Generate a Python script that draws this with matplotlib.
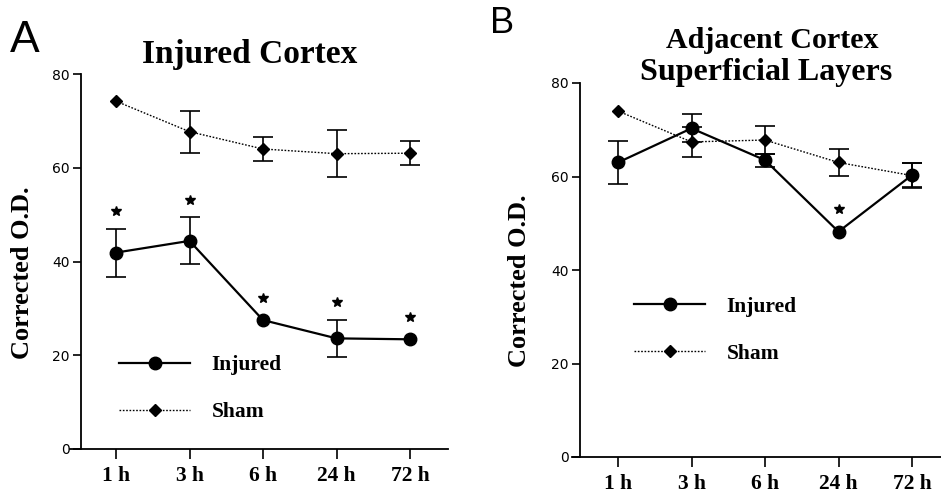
import matplotlib
matplotlib.use("Agg")
import matplotlib.pyplot as plt

# time points (categorical x axis)
times = ["1 h", "3 h", "6 h", "24 h", "72 h"]

# A: injured cortex
inj_a = [41.9, 44.4, 27.5, 23.6, 23.4]
inj_a_err = [5.1, 5.0, 0.0, 3.9, 0.0]
sham_a = [74.2, 67.7, 64.0, 63.0, 63.1]
sham_a_err = [0.0, 4.5, 2.6, 5.0, 2.6]
sig_a = [True, True, True, True, True]

# B: adjacent cortex, superficial layers
inj_b = [63.0, 70.3, 63.5, 48.2, 60.3]
inj_b_err = [4.5, 3.0, 1.4, 0.0, 2.6]
sham_b = [74.0, 67.4, 67.8, 63.0, 60.2]
sham_b_err = [0.0, 3.2, 3.0, 2.8, 2.6]
sig_b = [False, False, False, True, False]

serif = "Liberation Serif"
W, H = 941, 500

fig = plt.figure(figsize=(W / 100, H / 100), dpi=100)


def px_axes(left, right, top, bottom):
    return fig.add_axes([left / W, (H - bottom) / H, (right - left) / W, (bottom - top) / H])


def err_bars(ax, x, y, err, z):
    # error bars too small to see are hidden behind the markers, skip them
    idx = [i for i in x if err[i] > 0]
    ax.errorbar([x[i] for i in idx], [y[i] for i in idx], yerr=[err[i] for i in idx],
                fmt="none", ecolor="black", elinewidth=1.2, capsize=7, capthick=1.2,
                zorder=z)


def draw_panel(ax, inj, inj_err, sham, sham_err, sig, xlim, spine_x, legend_xy, ylabel_x):
    x = list(range(len(times)))
    err_bars(ax, x, sham, sham_err, 2)
    ax.plot(x, sham, color="black", lw=1.0, ls=(0, (1.2, 1.2)), marker="D", ms=6.5,
            label="Sham", zorder=3)
    err_bars(ax, x, inj, inj_err, 4)
    ax.plot(x, inj, color="black", lw=1.6, marker="o", ms=9, label="Injured", zorder=5)

    # significance stars above the injured points
    sx = [i for i in x if sig[i]]
    sy = [inj[i] + max(inj_err[i], 1.0) + 3.8 for i in x if sig[i]]
    ax.plot(sx, sy, ls="none", marker="*", ms=7, color="black")

    ax.set_xlim(*xlim)
    ax.set_ylim(0, 80)
    ax.set_xticks(x)
    ax.set_xticklabels(times, fontfamily=serif, fontweight="bold", fontsize=15.5)
    ax.set_yticks([0, 20, 40, 60, 80])
    ax.set_yticklabels(["0", "20", "40", "60", "80"], fontfamily=serif, fontsize=11)
    ax.tick_params(axis="y", length=6, width=1.2, pad=2)
    ax.tick_params(axis="x", length=7, width=1.2, pad=5)
    for s in ["top", "right"]:
        ax.spines[s].set_visible(False)
    ax.spines["left"].set_position(("data", spine_x))
    ax.spines["left"].set_linewidth(1.3)
    ax.spines["bottom"].set_linewidth(1.3)
    ax.patch.set_alpha(0)

    ax.set_ylabel("Corrected O.D.", fontfamily=serif, fontweight="bold", fontsize=19)
    ax.yaxis.set_label_coords(ylabel_x, 0.47)

    handles, labels = ax.get_legend_handles_labels()
    ax.legend(handles[::-1], labels[::-1], loc="upper left", bbox_to_anchor=legend_xy,
              frameon=False, borderpad=0, borderaxespad=0, handlelength=3.3,
              handletextpad=1.0, labelspacing=1.25,
              prop={"family": serif, "weight": "bold", "size": 15.5})


ax_a = px_axes(70, 448, 74, 449)
draw_panel(ax_a, inj_a, inj_a_err, sham_a, sham_a_err, sig_a,
           xlim=((70 - 116) / 73.5, (448 - 116) / 73.5), spine_x=(81 - 116) / 73.5,
           legend_xy=(0.13, 0.25), ylabel_x=-0.095)

ax_b = px_axes(572, 941, 83, 457)
draw_panel(ax_b, inj_b, inj_b_err, sham_b, sham_b_err, sig_b,
           xlim=((572 - 618) / 73.5, (941 - 618) / 73.5), spine_x=(580 - 618) / 73.5,
           legend_xy=(0.168, 0.428), ylabel_x=-0.111)

# panel titles and letters
fig.text(250 / W, 1 - 63 / H, "Injured Cortex", ha="center", va="baseline",
         fontfamily=serif, fontweight="bold", fontsize=24)
fig.text(772 / W, 1 - 48 / H, "Adjacent Cortex", ha="center", va="baseline",
         fontfamily=serif, fontweight="bold", fontsize=21.6)
fig.text(766 / W, 1 - 80 / H, "Superficial Layers", ha="center", va="baseline",
         fontfamily=serif, fontweight="bold", fontsize=23)
fig.text(10 / W, 1 - 52 / H, "A", ha="left", va="baseline", fontfamily="Liberation Sans",
         fontsize=32)
fig.text(490 / W, 1 - 33 / H, "B", ha="left", va="baseline", fontfamily="Liberation Sans",
         fontsize=26)

fig.savefig("out.png", dpi=100)
